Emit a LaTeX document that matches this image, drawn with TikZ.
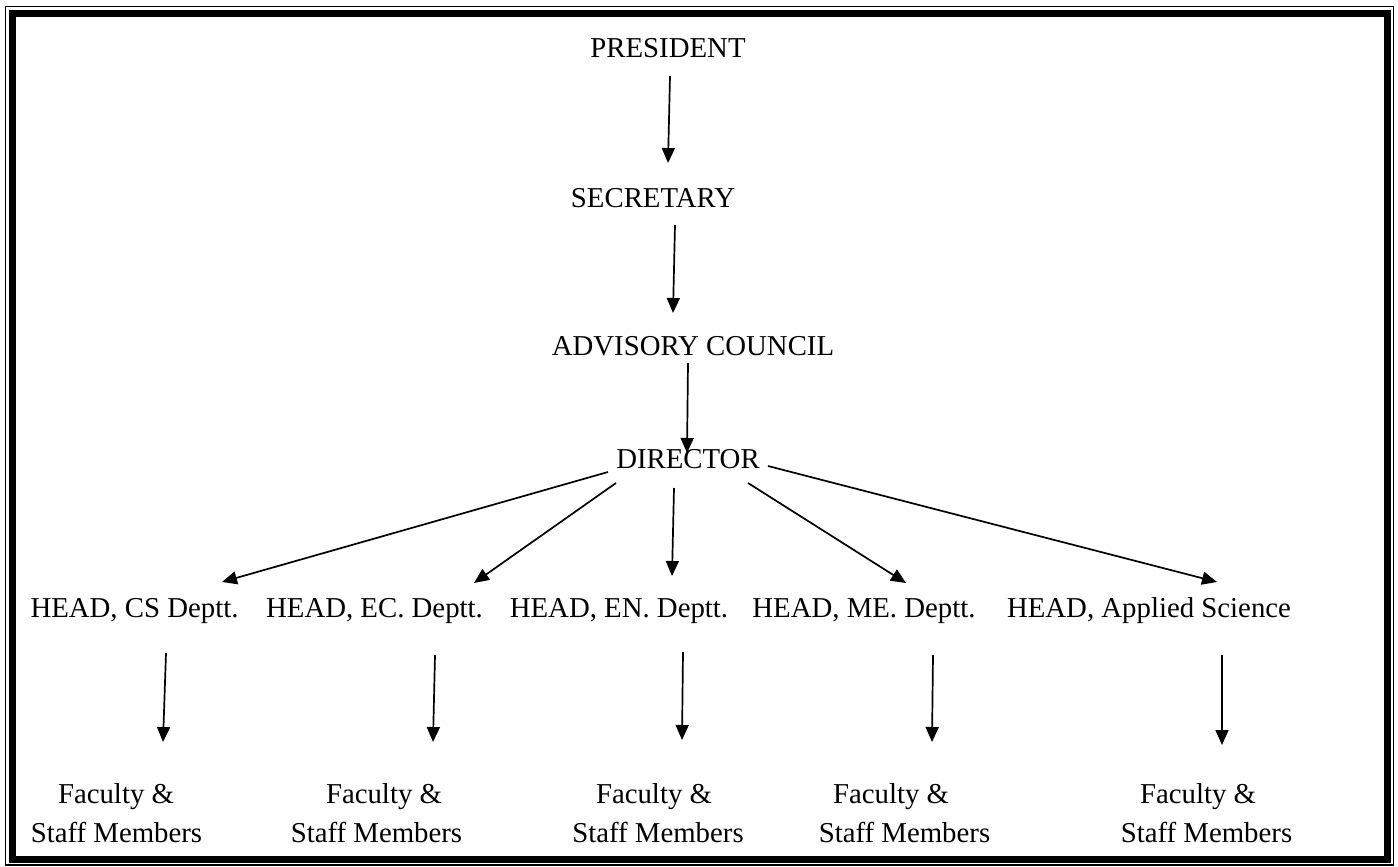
\documentclass[tikz,border=0pt]{standalone}
\usepackage{fontspec}
\setmainfont{Liberation Serif}
\usetikzlibrary{arrows.meta,calc}
\tikzset{
  lbl/.style={inner sep=0pt, anchor=base, font=\fontsize{28.8}{33}\selectfont},
  arr/.style={line width=1.7pt, -{Triangle[length=15pt,width=13pt]}},
}
\begin{document}
\begin{tikzpicture}[x=1pt,y=-1pt]
\useasboundingbox (0,0) rectangle (1398,867);
% border
\draw[line width=1.3pt] (5.5,6.5) rectangle (1393.5,865);
\draw[line width=6.5pt] (12.5,13.5) rectangle (1387.5,859.5);
% nodes
\node[lbl] (pres) at (668,58) {PRESIDENT};
\node[lbl] (sec) at (653,207) {SECRETARY};
\node[lbl] (adv) at (693,355) {ADVISORY COUNCIL};
\node[lbl] (dir) at (688,468) {DIRECTOR};
\node[lbl] (hcs) at (134.5,617) {HEAD, CS Deptt.};
\node[lbl] (hec) at (374.5,617) {HEAD, EC. Deptt.};
\node[lbl] (hen) at (619,617) {HEAD, EN. Deptt.};
\node[lbl] (hme) at (864,617) {HEAD, ME. Deptt.};
\node[lbl] (has) at (1149,617) {HEAD, Applied Science};
\node[lbl] (fa1) at (116,803) {Faculty \&};
\node[lbl] (fa2) at (384,803) {Faculty \&};
\node[lbl] (fa3) at (654,803) {Faculty \&};
\node[lbl] (fa4) at (891,803) {Faculty \&};
\node[lbl] (fa5) at (1198,803) {Faculty \&};
\node[lbl] (st1) at (116.5,842) {Staff Members};
\node[lbl] (st2) at (376.5,842) {Staff Members};
\node[lbl] (st3) at (658,842) {Staff Members};
\node[lbl] (st4) at (904.5,842) {Staff Members};
\node[lbl] (st5) at (1206.5,842) {Staff Members};
% connectors
\draw[arr] ($(pres.base)+(2,18)$) -- ($(sec.base)+(15,-44)$);
\draw[arr] ($(sec.base)+(22,18)$) -- ($(adv.base)+(-20,-42)$);
\draw[arr] ($(adv.base)+(-5,8)$) -- ($(dir.base)+(-1,-15)$);
\draw[arr] ($(dir.base)+(-80,4)$) -- ($(hcs.base)+(87.5,-35)$);
\draw[arr] ($(dir.base)+(-72,15)$) -- ($(hec.base)+(99.5,-34)$);
\draw[arr] ($(dir.base)+(-14,20)$) -- ($(hen.base)+(53,-41)$);
\draw[arr] ($(dir.base)+(60,15)$) -- ($(hme.base)+(42,-34)$);
\draw[arr] ($(dir.base)+(80,-2)$) -- ($(has.base)+(68,-35)$);
\draw[arr] ($(hcs.base)+(31.5,36)$) -- ($(fa1.base)+(47,-61)$);
\draw[arr] ($(hec.base)+(60.5,38)$) -- ($(fa2.base)+(49,-61)$);
\draw[arr] ($(hen.base)+(64,35)$) -- ($(fa3.base)+(28,-63)$);
\draw[arr] ($(hme.base)+(69,38)$) -- ($(fa4.base)+(41,-61)$);
\draw[arr] ($(has.base)+(73,38)$) -- ($(fa5.base)+(24,-58)$);
\end{tikzpicture}
\end{document}
